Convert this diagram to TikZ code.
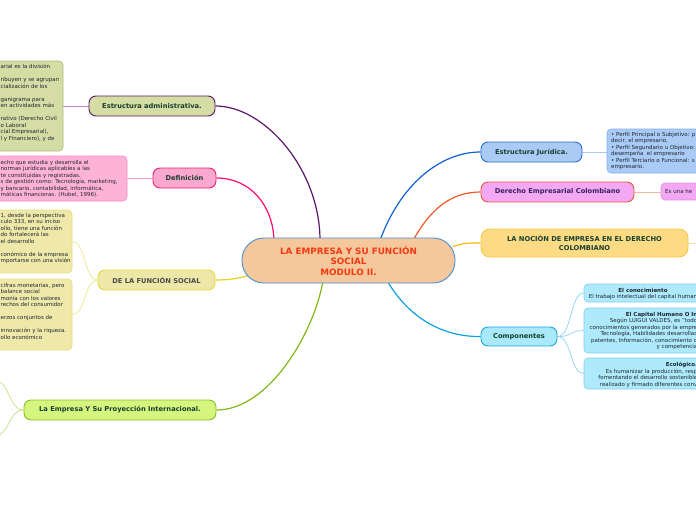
\documentclass[tikz,border=0pt]{standalone}
\usepackage{fontspec}
\setmainfont{DejaVu Sans}
\usetikzlibrary{calc}
\pgfdeclarelayer{background}
\pgfsetlayers{background,main}
\definecolor{cfill}{HTML}{F5C79D}
\definecolor{cbord}{HTML}{4A8FCF}
\definecolor{ctext}{HTML}{F23A10}
\definecolor{dkg}{HTML}{17402E}
\definecolor{boxtxt}{HTML}{1E2630}
\definecolor{olfill}{HTML}{D5DDA5}
\definecolor{olbord}{HTML}{ABBA7C}
\definecolor{purp}{HTML}{5A176A}
\definecolor{purpl}{HTML}{C58ACD}
\definecolor{pkfill}{HTML}{FBA8D0}
\definecolor{pkbord}{HTML}{F0207A}
\definecolor{pkbox}{HTML}{FFB2D8}
\definecolor{pkboxb}{HTML}{F98CC2}
\definecolor{mag}{HTML}{FF0D6E}
\definecolor{magl}{HTML}{FBA0C8}
\definecolor{ylfill}{HTML}{EEE8A8}
\definecolor{ylbord}{HTML}{E8D83C}
\definecolor{ylbox}{HTML}{EFE9A9}
\definecolor{ylboxb}{HTML}{E6DE80}
\definecolor{ylcon}{HTML}{E8D020}
\definecolor{ylconl}{HTML}{F0E890}
\definecolor{gray4}{HTML}{4A4A4A}
\definecolor{lmfill}{HTML}{D6F57E}
\definecolor{lmbord}{HTML}{88C020}
\definecolor{lmcon}{HTML}{80B818}
\definecolor{lmconl}{HTML}{C8E490}
\definecolor{blfill}{HTML}{A9CBF6}
\definecolor{blbord}{HTML}{2C6CD0}
\definecolor{blboxb}{HTML}{88AEEA}
\definecolor{blcon}{HTML}{1060D0}
\definecolor{blconl}{HTML}{A8C8F0}
\definecolor{vifill}{HTML}{F2A8F2}
\definecolor{vibord}{HTML}{F05838}
\definecolor{viboxb}{HTML}{E890E0}
\definecolor{orcon}{HTML}{F05828}
\definecolor{orconl}{HTML}{F8B8A0}
\definecolor{vitext}{HTML}{3A2060}
\definecolor{nofill}{HTML}{FDDB85}
\definecolor{nobord}{HTML}{F8C848}
\definecolor{nocon}{HTML}{F8B810}
\definecolor{noconl}{HTML}{FBE0B0}
\definecolor{cyfill}{HTML}{A9E9FA}
\definecolor{cybord}{HTML}{1AA8E0}
\definecolor{cybox}{HTML}{AEEAFB}
\definecolor{cyboxb}{HTML}{80D0F0}
\definecolor{cycon}{HTML}{10A0E0}
\definecolor{cyconl}{HTML}{98D8F0}
\begin{document}
\begin{tikzpicture}[x=1pt,y=-1pt,
  topic/.style={draw, rounded corners=7pt, line width=0.9pt, inner sep=0pt,
    minimum height=20pt, font=\fontsize{6.7}{8.2}\selectfont\bfseries, text=dkg, align=center},
  subbox/.style={draw, rounded corners=4pt, line width=0.6pt, inner sep=0pt},
  boxtext/.style={inner sep=0pt, align=left, font=\fontsize{5.5}{6.5}\selectfont, text=boxtxt},
  main/.style={line width=1.2pt},
  sub/.style={line width=0.8pt}]
\useasboundingbox (0,0) rectangle (696,520);
\clip (0,0) rectangle (696,520);

% central node
\node[draw=cbord, fill=cfill, line width=0.9pt, rounded corners=22pt, minimum width=213pt,
  minimum height=45pt, inner sep=0pt, align=center, text=ctext,
  font=\fontsize{8.8}{10.5}\selectfont\bfseries] (c) at (348.5,260.5)
  {LA EMPRESA Y SU FUNCIÓN\\SOCIAL\\MODULO II.};

% left topics
\node[topic, draw=purp, fill=olfill, minimum width=126pt] (ea) at (152,106) {Estructura administrativa.};
\node[topic, draw=pkbord, fill=pkfill, minimum width=63pt] (df) at (184.5,178) {Definición};
\node[topic, draw=ylbord, fill=ylfill, minimum width=117pt, text=gray4] (fs) at (156.5,280) {DE LA FUNCIÓN SOCIAL};
\node[topic, draw=lmbord, fill=lmfill, minimum width=192pt] (in) at (120,410) {La Empresa Y Su Proyección Internacional.};

% right topics
\node[topic, draw=blbord, fill=blfill, minimum width=101pt] (ej) at (531.5,152) {Estructura Jurídica.};
\node[topic, draw=vibord, fill=vifill, minimum width=153pt, text=vitext] (de) at (557.5,192) {Derecho Empresarial Colombiano};
\node[topic, draw=nobord, fill=nofill, minimum width=207pt, minimum height=28pt, rounded corners=9pt] (no) at (584.5,243)
  {LA NOCIÓN DE EMPRESA EN EL DERECHO\\COLOMBIANO};
\node[topic, draw=cybord, fill=cyfill, minimum width=76pt, minimum height=19pt] (co) at (519,336.5) {Componentes};

% left sub boxes
\node[subbox, draw=olbord, fill=olfill, minimum width=93pt, minimum height=90pt] (gb) at (16.5,106) {};
\node[boxtext, anchor=north west] (gbt) at (0.5,64) {arial es la división\\[6.5pt]
ribuyen y se agrupan\\cialización de los\\[6.5pt]
ganigrama para\\ en actividades más\\[6.5pt]
rativo (Derecho Civil\\o Laboral\\cial Empresarial),\\l y Financiero), y de};

\node[subbox, draw=pkboxb, fill=pkbox, minimum width=157pt, minimum height=45pt] (pb) at (48.5,178.5) {};
\node[boxtext, anchor=north west] (pbt) at (0.5,160) {echo que estudia y desarrolla el\\
 normas jurídicas aplicables a las\\te constituidas y registradas.\\
s de gestión como: Tecnología, marketing,\\y bancario, contabilidad, informática,\\
máticas financieras. (Hubel, 1996).};

\node[subbox, draw=ylboxb, fill=ylbox, minimum width=102pt, minimum height=63pt] (yb1) at (21,241.5) {};
\node[boxtext, anchor=north west] (yb1t) at (0.5,213) {1, desde la perspectiva\\culo 333, en su inciso\\
ollo, tiene una función\\do fortalecerá las\\el desarrollo\\[6.5pt]
conómico de la empresa\\mportarse con una visión};

\node[subbox, draw=ylboxb, fill=ylbox, minimum width=102pt, minimum height=71pt] (yb2) at (21,314.5) {};
\node[boxtext, anchor=north west] (yb2t) at (0.5,283) { cifras monetarias, pero\\balance social\\
monía con los valores\\rechos del consumidor\\[6.5pt]
erzos conjuntos de\\[6.5pt]
 innovación y la riqueza.\\ollo económico};

% right sub boxes
\node[subbox, draw=blboxb, fill=blfill, minimum width=113pt, minimum height=44pt] (bb) at (663.5,151) {};
\node[boxtext, anchor=north west] (bbt) at (611,132) {• Perfil Principal o Subjetivo: p\\decir, el empresario,\\
• Perfil Segundario u Objetivo:\\desempeña\ \ el empresario\\
• Perfil Terciario o Funcional: s\\empresario.};

\node[subbox, draw=viboxb, fill=vifill, minimum width=59pt, minimum height=17pt] (mb) at (690.5,191.5) {};
\node[boxtext, anchor=west] (mbt) at (665,191) {Es una he};

\node[subbox, draw=cyboxb, fill=cybox, minimum width=136pt, minimum height=18pt] (cb1) at (652,293) {};
\node[boxtext, align=center] (cb1t) at (643,294) {\textbf{El conocimiento}\\El trabajo intelectual del capital human};

\node[subbox, draw=cyboxb, fill=cybox, minimum width=136pt, minimum height=45pt] (cb2) at (652,330.5) {};
\node[boxtext, align=right, anchor=north east] (cb2t) at (697.5,312) {\textbf{El Capital Humano O In}\\
Según LUIGUI VALDES, es "todo\\conocimientos generados por la empre\\
Tecnología, Habilidades desarrollac\\patentes, Información, conocimiento d\\y competencia};

\node[subbox, draw=cyboxb, fill=cybox, minimum width=136pt, minimum height=31pt] (cb3) at (652,373.5) {};
\node[boxtext, align=right, anchor=north east] (cb3t) at (697.5,362) {\textbf{Ecológico.}\\
Es humanizar la producción, resp\\fomentando el desarrollo sostenible\\realizado y firmado diferentes conv};

\coordinate (ie1) at (-6,380);
\coordinate (ie2) at (-6,436);
\coordinate (ne) at (700,243);

\begin{pgfonlayer}{background}
% main connectors
\draw[main, purp] (ea.east) .. controls (265,106) and (320,170) .. ([xshift=-28.5pt,yshift=20pt]c.center);
\draw[main, mag] (df.east) .. controls (250,178) and (273,205) .. ([xshift=-74.5pt,yshift=20pt]c.center);
\draw[main, ylcon] (fs.east) .. controls (235,280) and (240,277) .. ([xshift=-98pt,yshift=-15pt]c.center);
\draw[main, lmcon] (in.east) .. controls (270,410) and (315,330) .. ([xshift=-25.5pt,yshift=-20pt]c.center);
\draw[main, blcon] ([xshift=31.5pt,yshift=20pt]c.center) .. controls (400,185) and (440,152) .. (ej.west);
\draw[main, orcon] ([xshift=64.5pt,yshift=20pt]c.center) .. controls (430,210) and (450,192) .. (de.west);
\draw[main, nocon] ([xshift=104pt,yshift=14pt]c.center) .. controls (466,243) .. (no.west);
\draw[main, cycon] ([xshift=38.5pt,yshift=-20pt]c.center) .. controls (410,320) and (445,337) .. (co.west);
% sub connectors
\draw[sub, purpl] (ea.west) -- (gb.east |- ea.west);
\draw[sub, magl] (df.west) -- (pb.east |- df.west);
\draw[sub, ylconl] (fs.west) .. controls (84,280) and (86,242) .. (yb1.east);
\draw[sub, ylconl] (fs.west) .. controls (84,280) and (86,314) .. (yb2.east);
\draw[sub, lmconl] (in.west) .. controls (8,410) and (10,380) .. (ie1);
\draw[sub, lmconl] (in.west) .. controls (8,410) and (10,436) .. (ie2);
\draw[sub, blconl] (ej.east) -- (bb.west |- ej.east);
\draw[sub, orconl] (de.east) -- (mb.west |- de.east);
\draw[sub, noconl] (no.east) -- (ne);
\draw[sub, cyconl] (co.east) .. controls (572,337) and (570,293) .. (cb1.west);
\draw[sub, cyconl] (co.east) .. controls (572,337) and (570,330.5) .. (cb2.west);
\draw[sub, cyconl] (co.east) .. controls (572,337) and (570,373.5) .. (cb3.west);
\end{pgfonlayer}
\end{tikzpicture}
\end{document}
